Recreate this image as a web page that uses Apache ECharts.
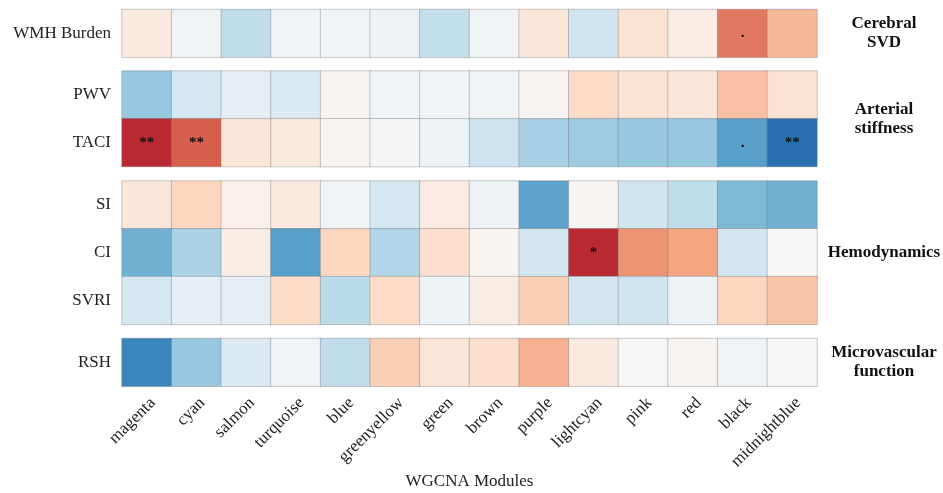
<!DOCTYPE html>
<html>
<head>
<meta charset="utf-8">
<script src="https://cdn.jsdelivr.net/npm/echarts@6/dist/echarts.min.js"></script>
<style>html,body{margin:0;padding:0;background:#fff}#c{width:943px;height:493px}</style>
</head>
<body>
<div id="c"></div>
<script>
const modules = ['magenta','cyan','salmon','turquoise','blue','greenyellow','green','brown','purple','lightcyan','pink','red','black','midnightblue'];

const panels = [
  { group: 'Cerebral\nSVD', rows: ['WMH Burden'] },
  { group: 'Arterial\nstiffness', rows: ['PWV', 'TACI'] },
  { group: 'Hemodynamics', rows: ['SI', 'CI', 'SVRI'] },
  { group: 'Microvascular\nfunction', rows: ['RSH'] }
];

const wmh  = [0.10,-0.05,-0.25,-0.03,-0.03,-0.06,-0.24,-0.03,0.12,-0.20,0.15,0.08,0.53,0.33];
const pwv  = [-0.38,-0.18,-0.10,-0.15,0.02,-0.04,-0.03,-0.04,0.02,0.19,0.15,0.12,0.30,0.14];
const taci = [0.75,0.60,0.12,0.10,0.02,-0.02,-0.06,-0.21,-0.33,-0.36,-0.38,-0.38,-0.55,-0.75];
const si   = [0.12,0.22,0.05,0.10,-0.03,-0.18,0.09,-0.06,-0.53,0.02,-0.20,-0.25,-0.45,-0.48];
const ci   = [-0.48,-0.32,0.08,-0.55,0.22,-0.30,0.17,0.02,-0.19,0.75,0.45,0.40,-0.19,0.00];
const svri = [-0.18,-0.10,-0.10,0.19,-0.27,0.19,-0.06,0.08,0.25,-0.19,-0.20,-0.06,0.22,0.29];
const rsh  = [-0.66,-0.38,-0.15,-0.03,-0.25,0.25,0.13,0.17,0.36,0.10,0.00,0.02,-0.05,-0.01];

const sigWmh  = ['','','','','','','','','','','','','.',''];
const sigPwv  = ['','','','','','','','','','','','','',''];
const sigTaci = ['**','**','','','','','','','','','','','.','**'];
const sigSi   = ['','','','','','','','','','','','','',''];
const sigCi   = ['','','','','','','','','','*','','','',''];
const sigSvri = ['','','','','','','','','','','','','',''];
const sigRsh  = ['','','','','','','','','','','','','',''];

const values = { 'WMH Burden': wmh, 'PWV': pwv, 'TACI': taci, 'SI': si, 'CI': ci, 'SVRI': svri, 'RSH': rsh };
const sigs = { 'WMH Burden': sigWmh, 'PWV': sigPwv, 'TACI': sigTaci, 'SI': sigSi, 'CI': sigCi, 'SVRI': sigSvri, 'RSH': sigRsh };

const SERIF = '"Liberation Serif", "Times New Roman", serif';
const rowH = 47.8;
const tops = [9.5, 71, 181, 338.5];
const left = 122, right = 126;

const chart = echarts.init(document.getElementById('c'), null, { renderer: 'canvas' });

const grids = [], xAxes = [], yAxes = [], series = [], graphics = [];
panels.forEach((p, gi) => {
  const h = rowH * p.rows.length;
  grids.push({ left: left, right: right, top: tops[gi], height: h, containLabel: false, outerBoundsMode: 'none' });
  const last = gi === panels.length - 1;
  xAxes.push({
    type: 'category', gridIndex: gi, data: modules,
    axisLine: { show: false }, axisTick: { show: false }, splitLine: { show: false },
    axisLabel: last ? {
      show: true, rotate: 45, margin: 8, verticalAlign: 'top',
      fontFamily: SERIF, fontSize: 17, color: '#222', interval: 0
    } : { show: false },
    name: last ? 'WGCNA Modules' : '',
    nameLocation: 'middle', nameGap: 87,
    nameTextStyle: { fontFamily: SERIF, fontSize: 17, color: '#222' }
  });
  yAxes.push({
    type: 'category', gridIndex: gi, data: p.rows, inverse: true,
    axisLine: { show: false }, axisTick: { show: false }, splitLine: { show: false },
    axisLabel: { fontFamily: SERIF, fontSize: 17, color: '#222', margin: 11 }
  });
  const data = [];
  p.rows.forEach((r, ri) => {
    values[r].forEach((v, ci) => data.push([ci, ri, v, sigs[r][ci]]));
  });
  series.push({
    type: 'heatmap', xAxisIndex: gi, yAxisIndex: gi, data: data,
    itemStyle: { borderColor: 'rgba(110,110,110,0.35)', borderWidth: 1 },
    label: {
      show: true, formatter: (d) => d.data[3],
      color: '#111', fontSize: 15, fontFamily: SERIF, fontWeight: 'bold'
    },
    emphasis: { disabled: true }
  });
  graphics.push({
    type: 'text', x: 884, y: tops[gi] + h / 2,
    style: {
      text: p.group, x: 0, y: 0, align: 'center', verticalAlign: 'middle',
      font: 'bold 17px ' + SERIF, fill: '#111', lineHeight: 19
    }
  });
});

chart.setOption({
  backgroundColor: '#fff',
  animation: false,
  grid: grids,
  xAxis: xAxes,
  yAxis: yAxes,
  visualMap: {
    type: 'continuous', show: false, min: -1, max: 1, dimension: 2,
    seriesIndex: series.map((s, i) => i),
    inRange: { color: ['#053061','#2166ac','#4393c3','#92c5de','#d1e5f0','#f7f7f7','#fddbc7','#f4a582','#d6604d','#b2182b','#67001f'] }
  },
  graphic: graphics,
  series: series
});
</script>
</body>
</html>
